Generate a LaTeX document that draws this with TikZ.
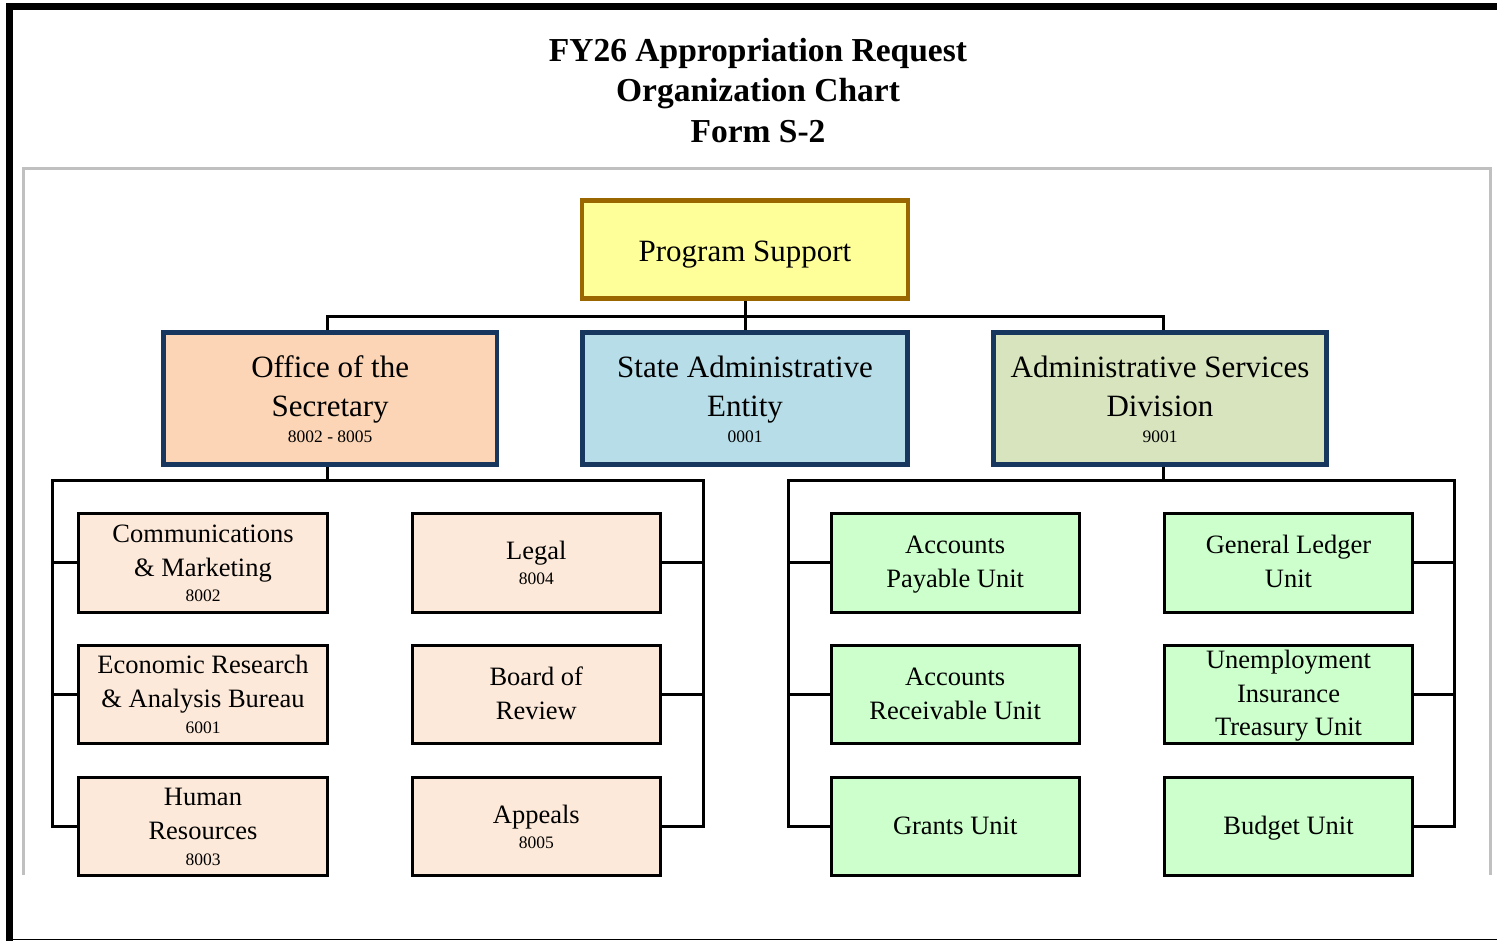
\documentclass[tikz,border=0pt]{standalone}
\usepackage{fontspec}
\setmainfont{Liberation Serif}
\usetikzlibrary{calc}
\definecolor{psfill}{HTML}{FFFF99}
\definecolor{psdraw}{HTML}{996600}
\definecolor{navy}{HTML}{17375E}
\definecolor{ofsfill}{HTML}{FBD5B5}
\definecolor{saefill}{HTML}{B7DDE8}
\definecolor{asdfill}{HTML}{D7E4BD}
\definecolor{peach}{HTML}{FDE9D9}
\definecolor{mint}{HTML}{CCFFCC}
\definecolor{framegray}{HTML}{C0C0C0}
\begin{document}
\begin{tikzpicture}[x=1pt,y=-1pt,
  topbox/.style={draw=psdraw, fill=psfill, line width=4.7pt, minimum width=326pt, minimum height=98.3pt, inner sep=0pt},
  hdrbox/.style={draw=navy, line width=4.7pt, minimum width=333.6pt, minimum height=132pt, inner sep=0pt},
  kidbox/.style={draw=black, line width=3pt, minimum width=248.4pt, minimum height=98.4pt, inner sep=0pt},
  peachbox/.style={kidbox, fill=peach},
  mintbox/.style={kidbox, fill=mint},
  conn/.style={draw=black, line width=3pt},
  bigtxt/.style={anchor=base, inner sep=0pt, font=\fontsize{31}{37}\selectfont},
  midtxt/.style={anchor=base, inner sep=0pt, font=\fontsize{26.5}{32}\selectfont},
  codetxt/.style={anchor=base, inner sep=0pt, font=\fontsize{17.5}{21}\selectfont},
  ttltxt/.style={anchor=base, inner sep=0pt, font=\bfseries\fontsize{33.5}{40}\selectfont}]
\useasboundingbox (0,0) rectangle (1497,941);
% outer frame
\fill[black] (6,3.3) rectangle (1497,10);
\fill[black] (6,3.3) rectangle (12.7,941);
\draw[black, line width=1.2pt] (6,939.3) -- (1497,939.3);
% gray frame
\draw[framegray, line width=3pt] (23.5,875) -- (23.5,168.5) -- (1490.5,168.5) -- (1490.5,875);
% title
\node[ttltxt] (title1) at (758,61.3) {FY26 Appropriation Request};
\node[ttltxt] (title2) at (758,102) {Organization Chart};
\node[ttltxt] (title3) at (758,142.7) {Form S-2};
% top levels
\node[topbox] (ps) at (745,249.5) {};
\node[hdrbox, fill=ofsfill] (ofs) at (330.2,398.3) {};
\node[hdrbox, fill=saefill, minimum width=325.3pt] (sae) at (745,398.3) {};
\node[hdrbox, fill=asdfill] (asd) at (1160,398.3) {};
% children left
\node[peachbox] (c11) at (203,563) {};
\node[peachbox] (c12) at (536.3,563) {};
\node[peachbox] (c21) at (203,694.3) {};
\node[peachbox] (c22) at (536.3,694.3) {};
\node[peachbox] (c31) at (203,826.2) {};
\node[peachbox] (c32) at (536.3,826.2) {};
% children right
\node[mintbox] (d11) at (955.2,563) {};
\node[mintbox] (d12) at (1288.5,563) {};
\node[mintbox] (d21) at (955.2,694.3) {};
\node[mintbox] (d22) at (1288.5,694.3) {};
\node[mintbox] (d31) at (955.2,826.2) {};
\node[mintbox] (d32) at (1288.5,826.2) {};
% connectors
\coordinate (TB) at (745,317);
\coordinate (LL) at (52,480.5);
\coordinate (LR) at (703,480.5);
\coordinate (RL) at (788.5,480.5);
\coordinate (RR) at (1454,480.5);
\draw[conn] ([xshift=-2.5pt]ofs.north) -- ([xshift=-2.5pt]ofs.north |- TB) -- ([xshift=3.5pt]asd.north |- TB) -- ([xshift=3.5pt]asd.north);
\draw[conn] (ps.south) -- (sae.north);
\draw[conn] ([xshift=-2.5pt]ofs.south) -- ([xshift=-2.5pt]ofs.south |- LL);
\draw[conn] (c31.west) -| (LL) -- (LR) |- (c32.east);
\draw[conn] ([yshift=1pt]c11.west) -- ([yshift=1pt]c11.west -| LL);
\draw[conn] (c21.west) -- (c21.west -| LL);
\draw[conn] ([yshift=1pt]c12.east) -- ([yshift=1pt]c12.east -| LR);
\draw[conn] (c22.east) -- (c22.east -| LR);
\draw[conn] ([xshift=3.5pt]asd.south) -- ([xshift=3.5pt]asd.south |- RL);
\draw[conn] (d31.west) -| (RL) -- (RR) |- (d32.east);
\draw[conn] ([yshift=1pt]d11.west) -- ([yshift=1pt]d11.west -| RL);
\draw[conn] (d21.west) -- (d21.west -| RL);
\draw[conn] ([yshift=1pt]d12.east) -- ([yshift=1pt]d12.east -| RR);
\draw[conn] (d22.east) -- (d22.east -| RR);
% texts top
\node[bigtxt] (tps) at ($(ps.north)+(0,63.5)$) {Program Support};
\node[bigtxt] (tofs1) at ($(ofs.north)+(0,47.8)$) {Office of the};
\node[bigtxt] (tofs2) at ($(ofs.north)+(0,86.8)$) {Secretary};
\node[codetxt] (tofs3) at ($(ofs.north)+(0,112.7)$) {8002 - 8005};
\node[bigtxt] (tsae1) at ($(sae.north)+(0,47.8)$) {State Administrative};
\node[bigtxt] (tsae2) at ($(sae.north)+(0,86.8)$) {Entity};
\node[codetxt] (tsae3) at ($(sae.north)+(0,112.7)$) {0001};
\node[bigtxt] (tasd1) at ($(asd.north)+(0,47.8)$) {Administrative Services};
\node[bigtxt] (tasd2) at ($(asd.north)+(0,86.8)$) {Division};
\node[codetxt] (tasd3) at ($(asd.north)+(0,112.7)$) {9001};
% texts left children
\node[midtxt] (tc11a) at ($(c11.north)+(0,30)$) {Communications};
\node[midtxt] (tc11b) at ($(c11.north)+(0,64)$) {\& Marketing};
\node[codetxt] (tc11c) at ($(c11.north)+(0,89.5)$) {8002};
\node[midtxt] (tc12a) at ($(c12.north)+(0,47.5)$) {Legal};
\node[codetxt] (tc12b) at ($(c12.north)+(0,72.5)$) {8004};
\node[midtxt] (tc21a) at ($(c21.north)+(0,30)$) {Economic Research};
\node[midtxt] (tc21b) at ($(c21.north)+(0,64)$) {\& Analysis Bureau};
\node[codetxt] (tc21c) at ($(c21.north)+(0,89.5)$) {6001};
\node[midtxt] (tc22a) at ($(c22.north)+(0,41.5)$) {Board of};
\node[midtxt] (tc22b) at ($(c22.north)+(0,75.5)$) {Review};
\node[midtxt] (tc31a) at ($(c31.north)+(0,30)$) {Human};
\node[midtxt] (tc31b) at ($(c31.north)+(0,64)$) {Resources};
\node[codetxt] (tc31c) at ($(c31.north)+(0,89.5)$) {8003};
\node[midtxt] (tc32a) at ($(c32.north)+(0,47.5)$) {Appeals};
\node[codetxt] (tc32b) at ($(c32.north)+(0,72.5)$) {8005};
% texts right children
\node[midtxt] (td11a) at ($(d11.north)+(0,41.5)$) {Accounts};
\node[midtxt] (td11b) at ($(d11.north)+(0,75.5)$) {Payable Unit};
\node[midtxt] (td12a) at ($(d12.north)+(0,41.5)$) {General Ledger};
\node[midtxt] (td12b) at ($(d12.north)+(0,75.5)$) {Unit};
\node[midtxt] (td21a) at ($(d21.north)+(0,41.5)$) {Accounts};
\node[midtxt] (td21b) at ($(d21.north)+(0,75.5)$) {Receivable Unit};
\node[midtxt] (td22a) at ($(d22.north)+(0,25)$) {Unemployment};
\node[midtxt] (td22b) at ($(d22.north)+(0,58.5)$) {Insurance};
\node[midtxt] (td22c) at ($(d22.north)+(0,92)$) {Treasury Unit};
\node[midtxt] (td31a) at ($(d31.north)+(0,59)$) {Grants Unit};
\node[midtxt] (td32a) at ($(d32.north)+(0,59)$) {Budget Unit};
\end{tikzpicture}
\end{document}
